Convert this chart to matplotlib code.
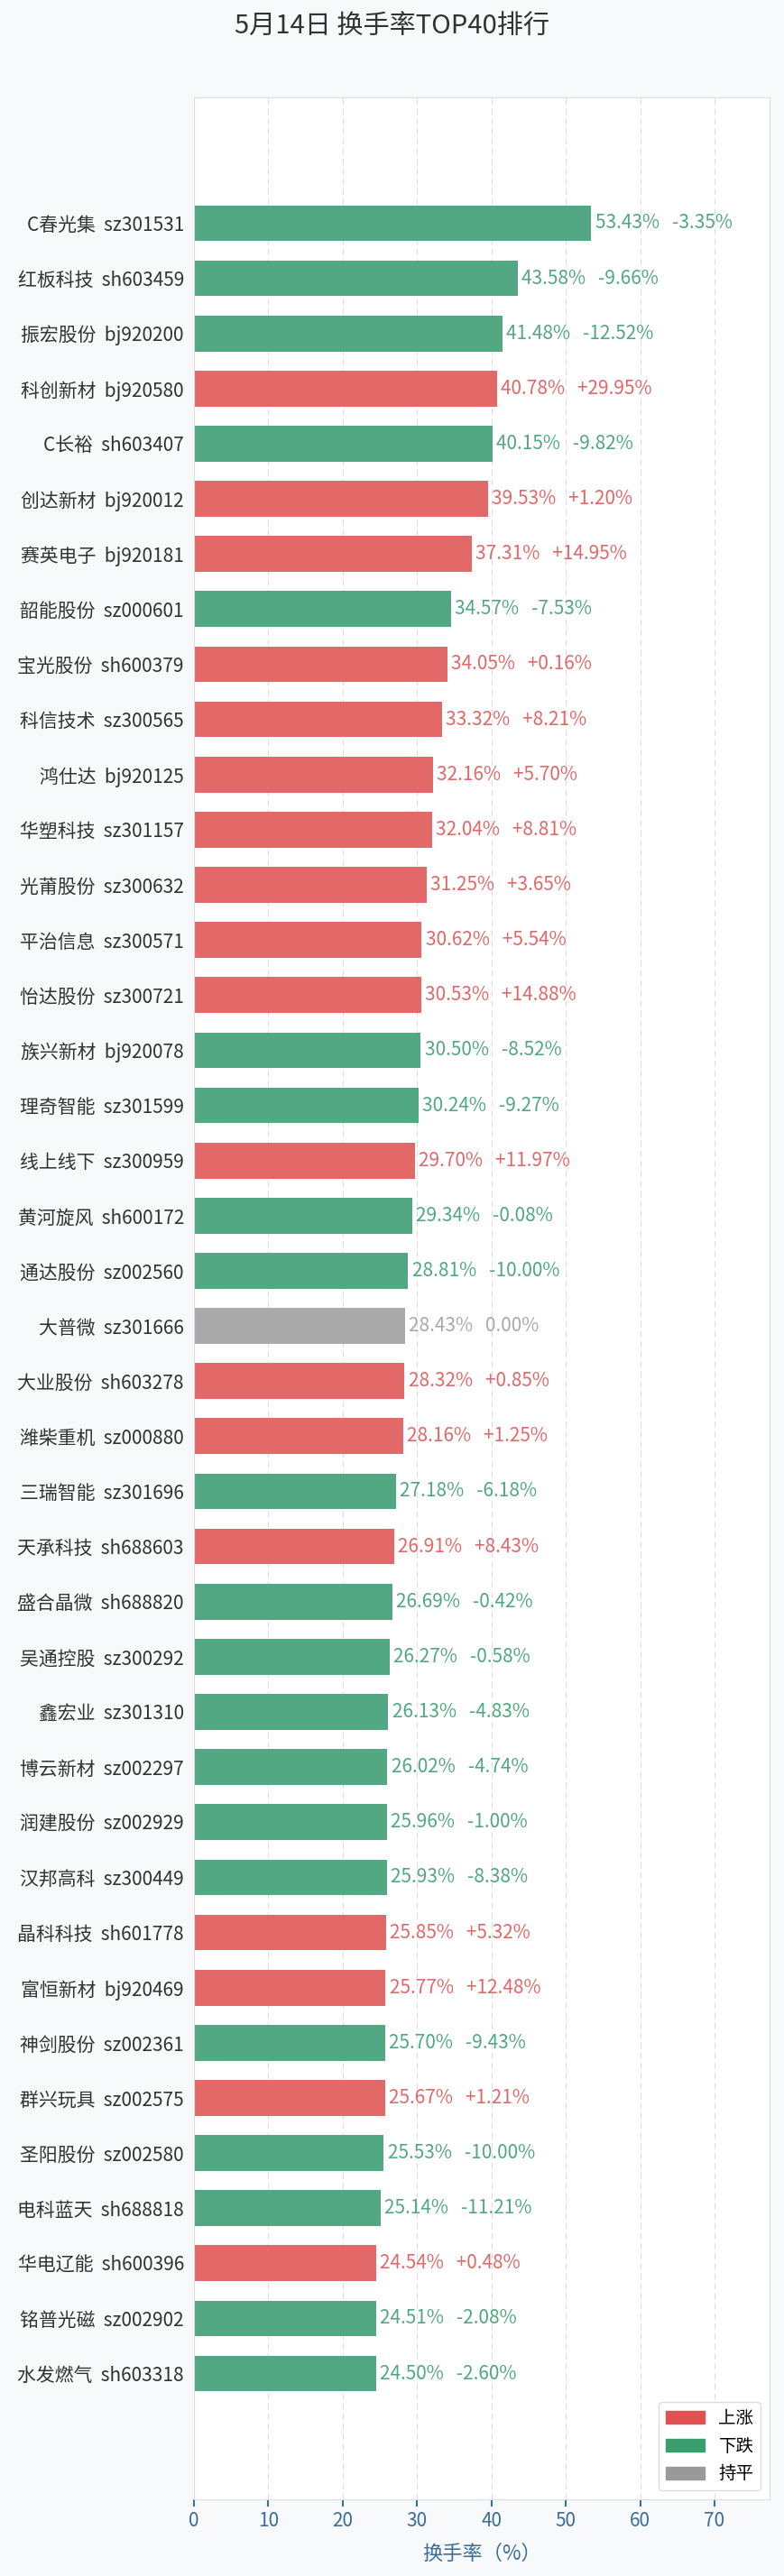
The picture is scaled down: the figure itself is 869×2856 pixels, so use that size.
import matplotlib
matplotlib.use("Agg")
import matplotlib.pyplot as plt
from matplotlib.patches import Patch

plt.rcParams['font.family'] = ['Noto Sans CJK SC', 'DejaVu Sans']

names = ["C春光集","红板科技","振宏股份","科创新材","C长裕","创达新材","赛英电子","韶能股份","宝光股份","科信技术",
         "鸿仕达","华塑科技","光莆股份","平治信息","怡达股份","族兴新材","理奇智能","线上线下","黄河旋风","通达股份",
         "大普微","大业股份","潍柴重机","三瑞智能","天承科技","盛合晶微","吴通控股","鑫宏业","博云新材","润建股份",
         "汉邦高科","晶科科技","富恒新材","神剑股份","群兴玩具","圣阳股份","电科蓝天","华电辽能","铭普光磁","水发燃气"]
codes = ["sz301531","sh603459","bj920200","bj920580","sh603407","bj920012","bj920181","sz000601","sh600379","sz300565",
         "bj920125","sz301157","sz300632","sz300571","sz300721","bj920078","sz301599","sz300959","sh600172","sz002560",
         "sz301666","sh603278","sz000880","sz301696","sh688603","sh688820","sz300292","sz301310","sz002297","sz002929",
         "sz300449","sh601778","bj920469","sz002361","sz002575","sz002580","sh688818","sh600396","sz002902","sh603318"]
turnover = [53.43,43.58,41.48,40.78,40.15,39.53,37.31,34.57,34.05,33.32,
            32.16,32.04,31.25,30.62,30.53,30.50,30.24,29.70,29.34,28.81,
            28.43,28.32,28.16,27.18,26.91,26.69,26.27,26.13,26.02,25.96,
            25.93,25.85,25.77,25.70,25.67,25.53,25.14,24.54,24.51,24.50]
change = [-3.35,-9.66,-12.52,29.95,-9.82,1.20,14.95,-7.53,0.16,8.21,
          5.70,8.81,3.65,5.54,14.88,-8.52,-9.27,11.97,-0.08,-10.00,
          0.00,0.85,1.25,-6.18,8.43,-0.42,-0.58,-4.83,-4.74,-1.00,
          -8.38,5.32,12.48,-9.43,1.21,-10.00,-11.21,0.48,-2.08,-2.60]

RED, GREEN, GRAY = '#e36868', '#52a882', '#aaaaaa'
def col(c):
    return RED if c > 0 else (GREEN if c < 0 else GRAY)

fig = plt.figure(figsize=(8.7, 28.56), dpi=100, facecolor='#f7f9fb')
W, H = 870, 2856
ax = fig.add_axes([215/W, 1-2771/H, (853-215)/W, (2771-108)/H])
ax.set_facecolor('white')
y = list(range(len(names)))
colors = [col(c) for c in change]
ax.barh(y, turnover, height=0.65, color=colors, zorder=2)
for i, (t, c) in enumerate(zip(turnover, change)):
    s = f"{t:.2f}%   {'+' if c > 0 else ''}{c:.2f}%"
    ax.text(t + 0.5, i, s, va='center', ha='left', fontsize=15, color=col(c))
ax.set_yticks(y)
ax.set_yticklabels([f"{n}  {c}" for n, c in zip(names, codes)], fontsize=15, color='#333333')
ax.set_ylim(41.28, -2.28)
ax.set_xlim(0, 77.4)
ax.set_xticks(range(0, 80, 10))
ax.tick_params(axis='x', colors='#3b6e9a', labelsize=15, length=6, width=1.5, direction='out')
ax.tick_params(axis='y', length=0, pad=8)
ax.grid(axis='x', linestyle=(0, (6, 4)), color='#dddddd', zorder=0)
for sp in ax.spines.values():
    sp.set_color('#dddddd')
ax.set_xlabel('换手率（%）', fontsize=16, color='#3b6e9a', labelpad=10)
fig.text(0.5, 1-30/H, '5月14日 换手率TOP40排行', ha='center', va='center', fontsize=21, color='#333333')
handles = [Patch(color='#e05252', label='上涨'), Patch(color='#3a9e6e', label='下跌'), Patch(color='#999999', label='持平')]
ax.legend(handles=handles, loc='lower right', fontsize=14, framealpha=1, edgecolor='#dddddd', handlelength=2.2)
fig.savefig('out.png', dpi=100, facecolor=fig.get_facecolor())
